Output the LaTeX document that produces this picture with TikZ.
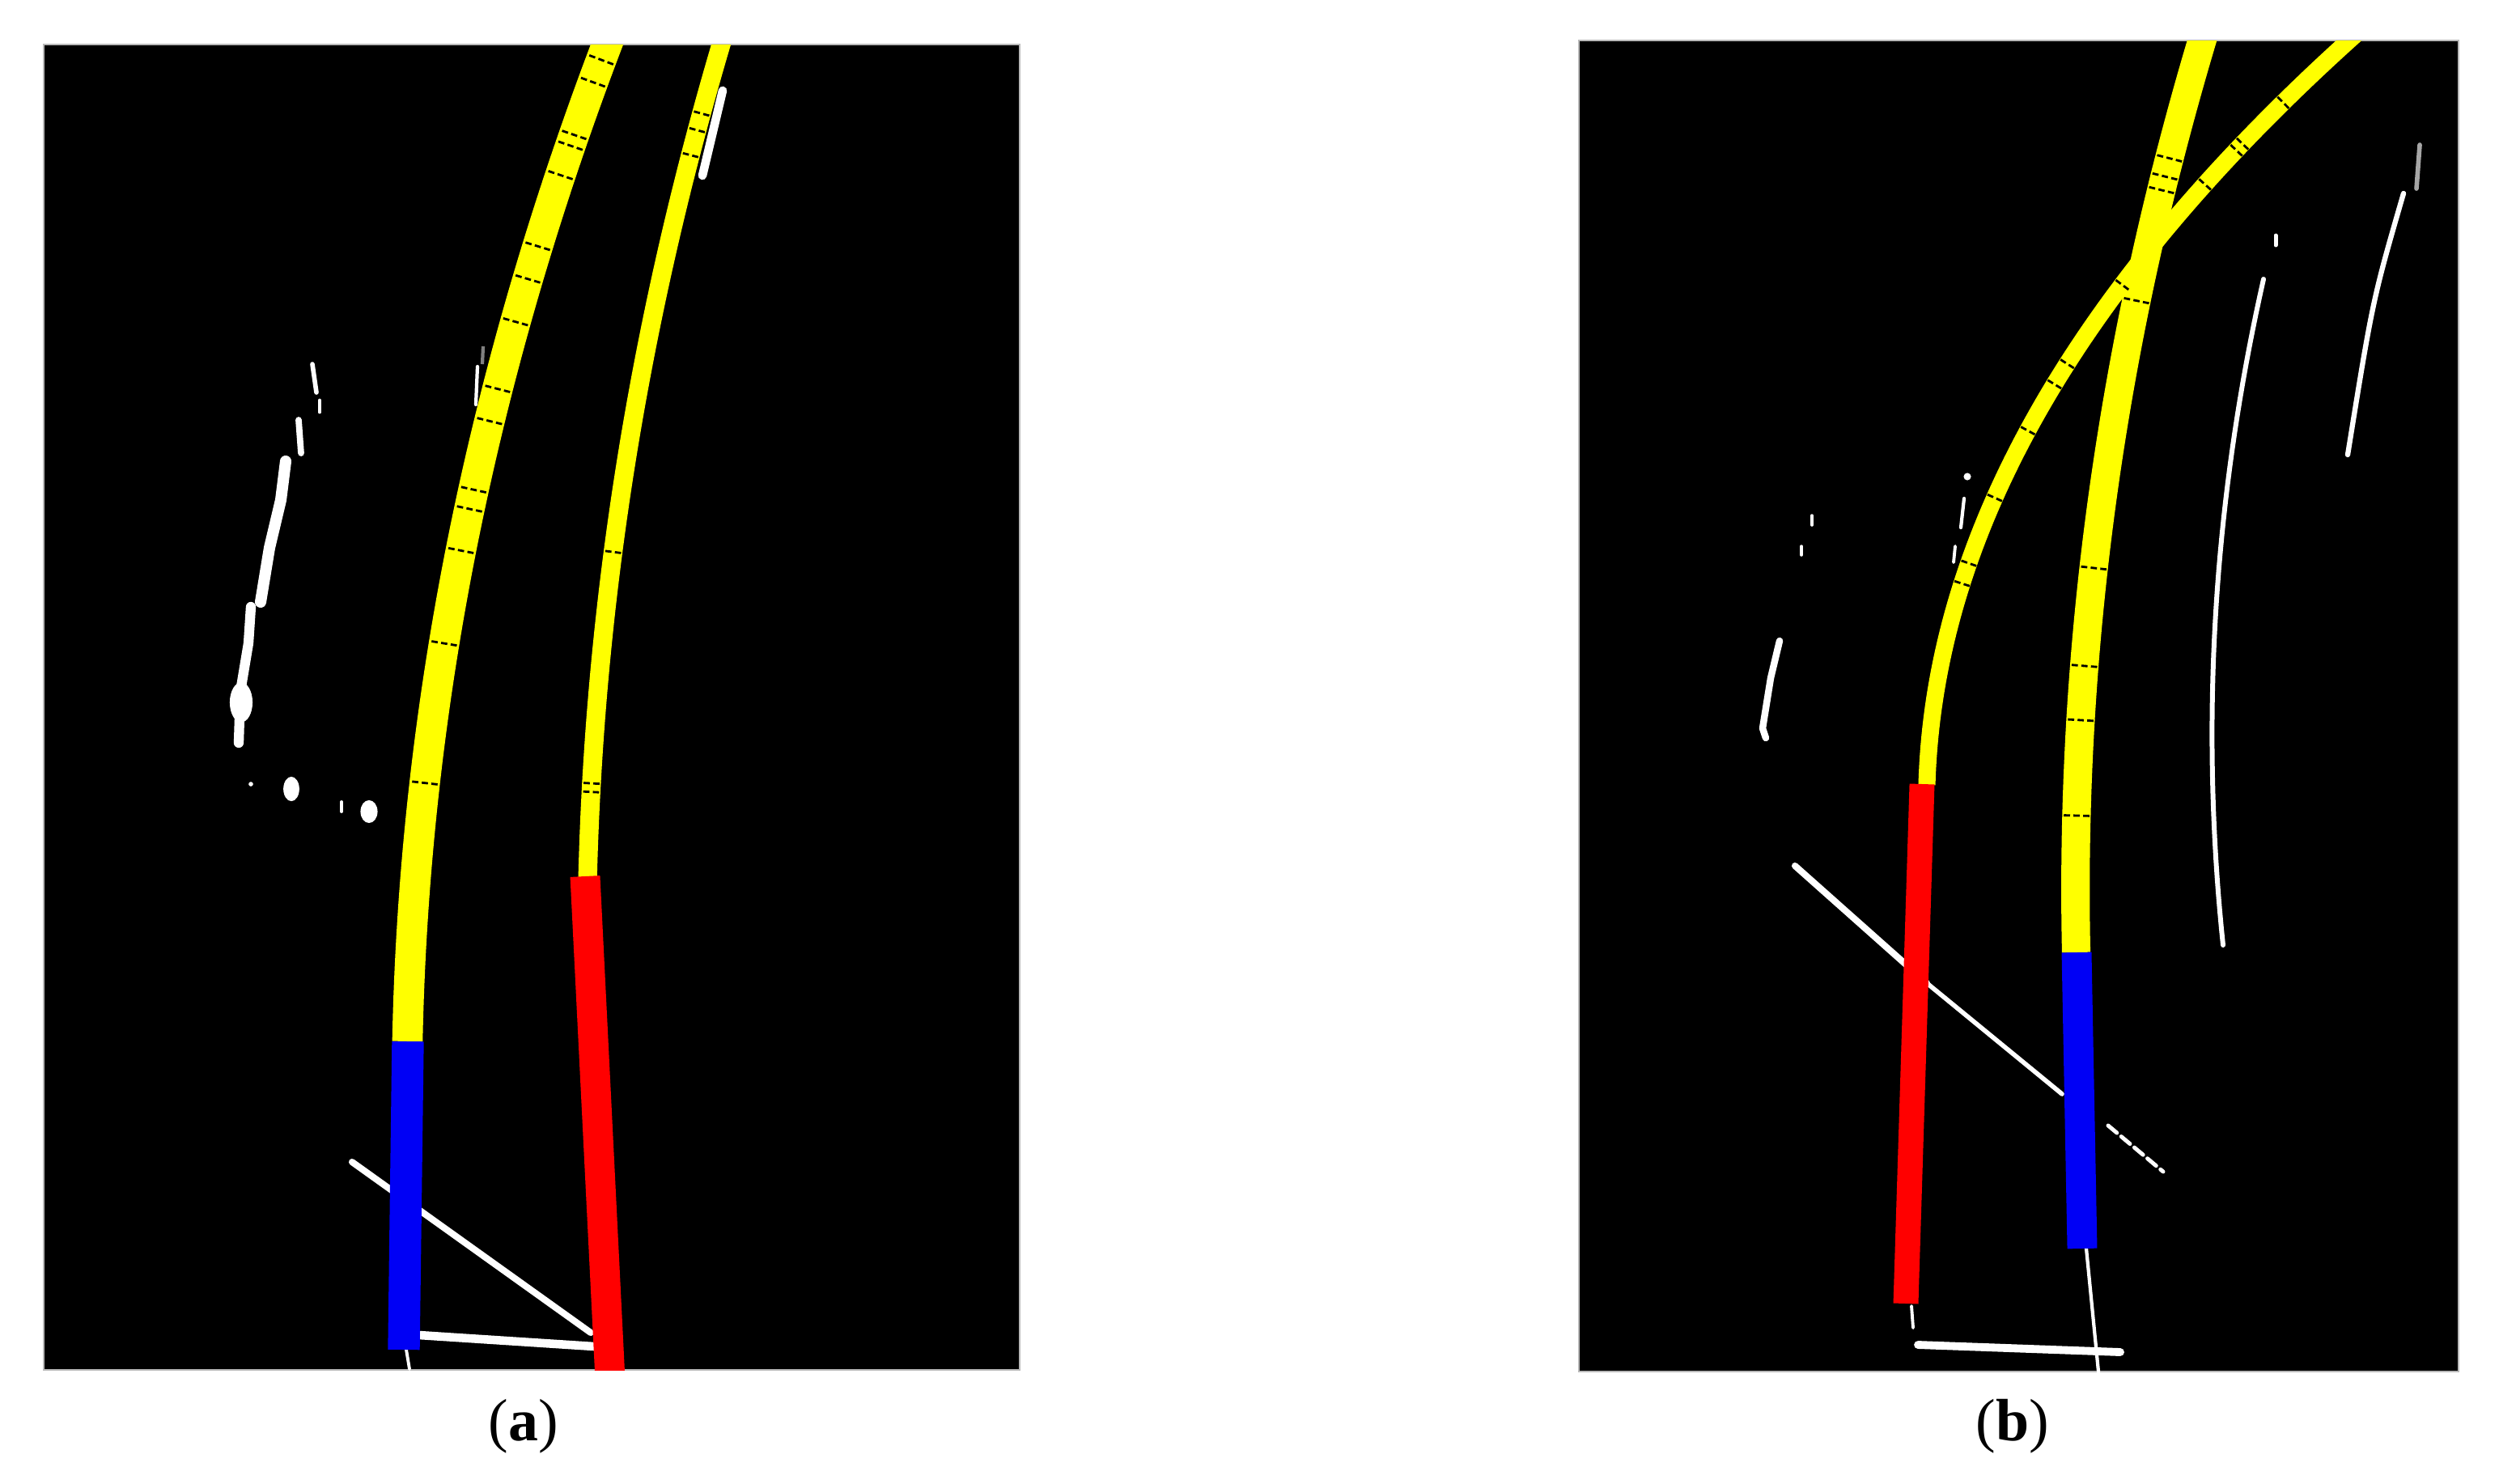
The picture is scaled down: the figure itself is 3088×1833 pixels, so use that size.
\documentclass[tikz,border=0pt]{standalone}
\usepackage{fontspec}
\setmainfont{Liberation Serif}
\usetikzlibrary{decorations.markings}
\definecolor{lyellow}{RGB}{255,255,0}
\definecolor{lred}{RGB}{255,0,0}
\definecolor{lblue}{RGB}{0,0,245}
\newcommand\lanetickmark{\draw[lanetick] (0,-16) -- (0,16);}
\newcommand\thintickmark{\draw[lanetick] (0,-10) -- (0,10);}
\begin{document}
\begin{tikzpicture}[x=0.01cm,y=-0.01cm,
  panel/.style={fill=black,draw=gray!55,line width=0.8pt},
  lane/.style={line cap=butt,line join=round},
  yel/.style={lane,draw=lyellow},
  noise/.style={draw=white,line cap=round,line join=round},
  lanetick/.style={draw=black,line width=0.8pt,dash pattern=on 2.2pt off 1.2pt},
  caption/.style={font=\fontsize{21}{25}\selectfont,inner sep=0pt,text=black}]

\fill[white] (0,0) rectangle (3088,1833);
\useasboundingbox (0,0) rectangle (3088,1833);

%% ---------------- panel (a) ----------------
\path[panel] (54,55) rectangle (1260,1693);
\begin{scope}
\clip (54,55) rectangle (1260,1693);
% white noise
\draw[noise,line width=1.6pt] (386,450) -- (391,485);
\draw[noise,line width=1.4pt] (395,495) -- (395,509);
\draw[noise,line width=2.2pt] (369,519) -- (372,560);
\draw[noise,line width=4pt] (353,570) -- (347,618) -- (333,677) -- (322,744);
\draw[noise,line width=3.5pt] (310,750) -- (307,795) -- (297,855) -- (295,918);
\fill[white] (298,868) ellipse (4pt and 7pt);
\fill[white] (360,975) ellipse (2.8pt and 4.3pt);
\fill[white] (456,1003) ellipse (3pt and 4pt);
\draw[noise,line width=1.1pt] (422,991) -- (422,1003);
\fill[white] (310,969) circle (0.8pt);
\draw[noise,line width=2.3pt] (435,1436) -- (730,1647);
\draw[noise,line width=3pt] (518,1650) -- (734,1664);
\draw[noise,line width=1.1pt] (502,1668) -- (506,1692);
\draw[noise,line width=3pt] (893,112) -- (868,217);
\draw[noise,line width=1.2pt] (590,453) -- (588,500);
\draw[gray,line width=1.2pt] (597,428) -- (596,450);
% left lane (yellow then blue)
\draw[yel,line width=10.7pt,
  postaction={decorate,decoration={markings,
    mark=at position 0.03 with {\lanetickmark},
    mark=at position 0.053 with {\lanetickmark},
    mark=at position 0.107 with {\lanetickmark},
    mark=at position 0.118 with {\lanetickmark},
    mark=at position 0.148 with {\lanetickmark},
    mark=at position 0.22 with {\lanetickmark},
    mark=at position 0.253 with {\lanetickmark},
    mark=at position 0.296 with {\lanetickmark},
    mark=at position 0.363 with {\lanetickmark},
    mark=at position 0.395 with {\lanetickmark},
    mark=at position 0.463 with {\lanetickmark},
    mark=at position 0.482 with {\lanetickmark},
    mark=at position 0.523 with {\lanetickmark},
    mark=at position 0.614 with {\lanetickmark},
    mark=at position 0.75 with {\lanetickmark}}}]
  plot[domain=38:1287,samples=70,variable=\t] ({750+(-38+1.46*((\t-55)/100))*((\t-55)/100)},\t);
\draw[lane,lblue,line width=11.2pt] (504,1287) -- (499,1668);
% right lane (yellow then red)
\draw[yel,line width=6.6pt,
  postaction={decorate,decoration={markings,
    mark=at position 0.10 with {\thintickmark},
    mark=at position 0.12 with {\thintickmark},
    mark=at position 0.15 with {\thintickmark},
    mark=at position 0.62 with {\thintickmark},
    mark=at position 0.89 with {\thintickmark},
    mark=at position 0.9 with {\thintickmark}}}]
  plot[domain=38:1085,samples=60,variable=\t] ({891+(-29.5+1.31*((\t-55)/100))*((\t-55)/100)},\t);
\draw[lane,lred,line width=10.5pt] (723,1083) -- (754,1705);
\end{scope}

%% ---------------- panel (b) ----------------
\path[panel] (1951,50) rectangle (3038,1695);
\begin{scope}
\clip (1951,50) rectangle (3038,1695);
% white noise
\draw[noise,line width=1.4pt] (2812,291) -- (2812,303);
\draw[noise,line width=1.7pt] plot[domain=345:1168,samples=40,variable=\t] ({2797+(-22.61+2.009*((\t-345)/100))*((\t-345)/100)},\t);
\draw[draw=gray!70,line cap=round,line width=1.6pt] (2990,179) -- (2986,233);
\draw[noise,line width=1.8pt] (2970,239) .. controls (2932,370) .. (2901,562);
\fill[white] (2431,589) circle (1.3pt);
\draw[noise,line width=1.2pt] (2427,616) -- (2423,652);
\draw[noise,line width=1.1pt] (2416,675) -- (2414,695);
\draw[noise,line width=1pt] (2239,637) -- (2239,649);
\draw[noise,line width=1pt] (2226,675) -- (2226,686);
\draw[noise,line width=2.4pt] (2199,792) -- (2188,838) -- (2178,900) -- (2182,912);
\draw[noise,line width=2.3pt] (2218,1070) -- (2381,1215);
\draw[noise,line width=1.6pt] (2381,1215) -- (2548,1352);
\draw[noise,line width=1.4pt,dash pattern=on 4pt off 2pt] (2605,1391) -- (2673,1448);
\draw[noise,line width=1.1pt] (2362,1614) -- (2364,1641);
\draw[noise,line width=1.2pt] (2578,1543) -- (2593,1695);
\draw[noise,line width=2.8pt] (2370,1662) -- (2620,1671);
% right lane (yellow then blue)
\draw[yel,line width=10pt,
  postaction={decorate,decoration={markings,
    mark=at position 0.144 with {\lanetickmark},
    mark=at position 0.164 with {\lanetickmark},
    mark=at position 0.179 with {\lanetickmark},
    mark=at position 0.30 with {\lanetickmark},
    mark=at position 0.589 with {\lanetickmark},
    mark=at position 0.694 with {\lanetickmark},
    mark=at position 0.752 with {\lanetickmark},
    mark=at position 0.854 with {\lanetickmark}}}]
  plot[domain=35:1177,samples=60,variable=\t] ({2721+(-29.8+1.42*((\t-50)/100))*((\t-50)/100)},\t);
\draw[lane,lblue,line width=10.5pt] (2566,1177) -- (2573,1543);
% left curved lane (yellow then red)
\draw[yel,line width=6pt,
  postaction={decorate,decoration={markings,
    mark=at position 0.115 with {\thintickmark},
    mark=at position 0.18 with {\thintickmark},
    mark=at position 0.19 with {\thintickmark},
    mark=at position 0.242 with {\thintickmark},
    mark=at position 0.388 with {\thintickmark},
    mark=at position 0.496 with {\thintickmark},
    mark=at position 0.523 with {\thintickmark},
    mark=at position 0.583 with {\thintickmark},
    mark=at position 0.667 with {\thintickmark},
    mark=at position 0.746 with {\thintickmark},
    mark=at position 0.77 with {\thintickmark}}}]
  plot[domain=40:970,samples=80,variable=\t] ({2897+(-109.95+5.853*((\t-55)/100))*((\t-55)/100)},\t);
\draw[lane,lred,line width=8.8pt] (2375,969) -- (2355,1611);
\end{scope}

%% captions
\node[caption] (capa) at (647,1763) {(\textbf{a})};
\node[caption] (capb) at (2487,1763) {(\textbf{b})};
\end{tikzpicture}
\end{document}
